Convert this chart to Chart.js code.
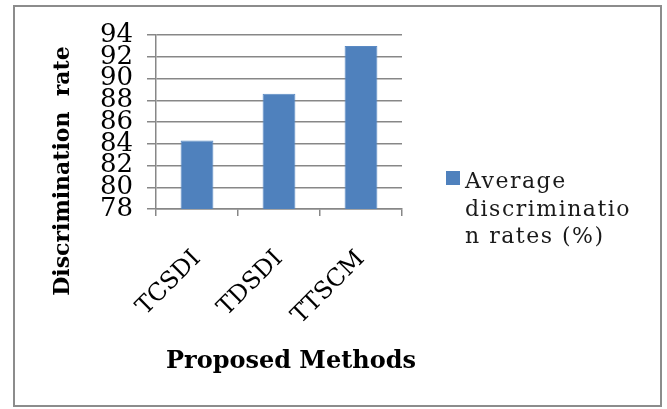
<!DOCTYPE html>
<html>
<head>
<meta charset="utf-8">
<script src="https://cdn.jsdelivr.net/npm/chart.js@4"></script>
<style>
  html, body { margin: 0; padding: 0; background: #fff; }
  #wrap { position: relative; width: 667px; height: 409px; }
</style>
</head>
<body>
<div id="wrap"><canvas id="c" width="667" height="409"></canvas></div>
<script>
// Categories and values
const methods = ['TCSDI', 'TDSDI', 'TTSCM'];
const avgRates = [84.3, 88.6, 93.0];
const seriesLabel = 'Average discrimination rates (%)';
const legendLines = ['Average', 'discriminatio', 'n rates (%)'];
const yTitle = 'Discrimination  rate';
const xTitle = 'Proposed Methods';
const yMin = 78, yMax = 94, yStep = 2;

const barColor = '#4F81BD';
const gridColor = '#878787';

// Frame, axis titles and the wrapped legend drawn on the canvas
const decor = {
  id: 'decor',
  beforeDraw(chart) {
    const ctx = chart.ctx;
    ctx.save();
    ctx.fillStyle = '#fff';
    ctx.fillRect(0, 0, chart.width, chart.height);
    ctx.strokeStyle = '#8c8c8c';
    ctx.lineWidth = 2;
    ctx.strokeRect(14, 6, 647, 400);
    ctx.restore();
  },
  afterDraw(chart) {
    const ctx = chart.ctx;
    ctx.save();
    ctx.fillStyle = '#000';
    ctx.textAlign = 'center';
    ctx.textBaseline = 'middle';
    // y axis title
    ctx.font = 'bold 22px "DejaVu Serif"';
    ctx.save();
    ctx.translate(63, 171);
    ctx.rotate(-Math.PI / 2);
    ctx.fillText(yTitle, 0, 0);
    ctx.restore();
    // x axis title
    ctx.font = 'bold 24px "DejaVu Serif"';
    ctx.fillText(xTitle, 291, 362);
    // legend
    ctx.fillStyle = chart.data.datasets[0].backgroundColor;
    ctx.fillRect(446, 171, 14, 14);
    ctx.fillStyle = '#1a1a1a';
    ctx.font = '22px "DejaVu Serif"';
    ctx.letterSpacing = '1.5px';
    ctx.textAlign = 'left';
    ctx.textBaseline = 'alphabetic';
    legendLines.forEach((ln, i) => ctx.fillText(ln, 465, 188 + i * 27.5));
    ctx.restore();
  }
};

new Chart(document.getElementById('c'), {
  type: 'bar',
  data: {
    labels: methods,
    datasets: [{
      label: seriesLabel,
      data: avgRates,
      backgroundColor: barColor,
      borderColor: '#5a8ac4',
      borderWidth: 1,
      barPercentage: 1,
      categoryPercentage: 0.4
    }]
  },
  options: {
    responsive: false,
    animation: false,
    devicePixelRatio: 1,
    layout: { padding: { left: 86, right: 265, top: 35, bottom: 0 } },
    plugins: { legend: { display: false }, tooltip: { enabled: false } },
    scales: {
      x: {
        grid: { display: true, drawOnChartArea: false, offset: true, tickLength: 7, color: gridColor, lineWidth: 1.5 },
        border: { color: gridColor, width: 1.5 },
        ticks: {
          color: '#000',
          font: { family: 'DejaVu Serif', size: 24 },
          minRotation: 45, maxRotation: 45, padding: 29
        },
        afterFit(s) { s.height = 200; }
      },
      y: {
        min: yMin, max: yMax,
        grid: { color: gridColor, lineWidth: 1.5, tickLength: 9 },
        border: { color: gridColor, width: 1.5 },
        ticks: {
          stepSize: yStep, autoSkip: false, color: '#000',
          font: { family: 'DejaVu Serif', size: 26, lineHeight: 0.8 },
          padding: 14
        },
        afterFit(s) { s.width = 70; }
      }
    }
  },
  plugins: [decor]
});
</script>
</body>
</html>
